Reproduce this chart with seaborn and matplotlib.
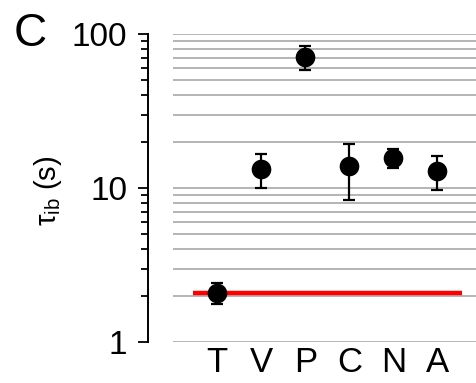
import numpy as np
import pandas as pd
import seaborn as sns
import matplotlib.pyplot as plt

labels = ["T", "V", "P", "C", "N", "A"]
tau = [2.08, 13.3, 71.0, 13.9, 15.7, 12.9]
err_hi = [2.42, 16.6, 83.5, 19.3, 17.8, 16.1]
err_lo = [1.77, 10.0, 58.5, 8.4, 13.5, 9.75]
ref_level = 2.08

sns.set_theme(style="white")
plt.rcParams["font.family"] = ["Liberation Sans", "DejaVu Sans"]
plt.rcParams["mathtext.fontset"] = "custom"
plt.rcParams["mathtext.rm"] = "Liberation Sans"
plt.rcParams["mathtext.it"] = "Liberation Sans"
plt.rcParams["text.color"] = "black"
plt.rcParams["xtick.labelcolor"] = "black"
plt.rcParams["ytick.labelcolor"] = "black"

df = pd.DataFrame({"label": labels, "tau": tau, "hi": err_hi, "lo": err_lo})
df["x"] = np.arange(len(df))

fig = plt.figure(figsize=(4.77, 3.83), dpi=100)
ax = fig.add_axes([0.363, 0.107, 0.637, 0.804])

ax.set_yscale("log")
ax.set_ylim(1, 100)
ax.set_xlim(-1, 5.9)

# horizontal grid at every decade and minor step
ax.grid(True, which="both", axis="y", color="#a8a8a8", linewidth=1.2)
ax.set_axisbelow(True)

yerr = np.array([df["tau"] - df["lo"], df["hi"] - df["tau"]])
ax.errorbar(df["x"], df["tau"], yerr=yerr, fmt="none", ecolor="black",
            elinewidth=1.6, capsize=4, capthick=1.6, zorder=3)
ax.hlines(ref_level, -0.55, 5.55, color="#ff0000", linewidth=3.2, zorder=4)
sns.scatterplot(data=df, x="x", y="tau", color="black", s=200,
                edgecolor="black", linewidth=0, ax=ax, zorder=5)

ax.set_xticks(df["x"])
ax.set_xticklabels(df["label"])
ax.tick_params(axis="x", length=0, pad=3, labelsize=25, labelcolor="black")
ax.set_yticks([1, 10, 100])
ax.set_yticklabels(["1", "10", "100"])
ax.tick_params(axis="y", which="major", direction="out", length=7, width=1.3,
               left=True, pad=8, labelsize=24, color="black", labelcolor="black")
ax.tick_params(axis="y", which="minor", direction="out", length=5, width=1.3,
               left=True, color="black")
ax.set_xlabel("")
ax.set_ylabel("")

for s in ["top", "right", "bottom"]:
    ax.spines[s].set_visible(False)
ax.spines["left"].set_position(("outward", 18))
ax.spines["left"].set_color("black")
ax.spines["left"].set_linewidth(1.4)

fig.text(0.10, 0.503, r"$\tau_{\mathrm{ib}}$ (s)", rotation=90,
         ha="center", va="center", fontsize=21, color="black")
fig.text(0.063, 0.912, "C", ha="center", va="center", fontsize=33, color="black")

fig.savefig("out.png", dpi=100)
